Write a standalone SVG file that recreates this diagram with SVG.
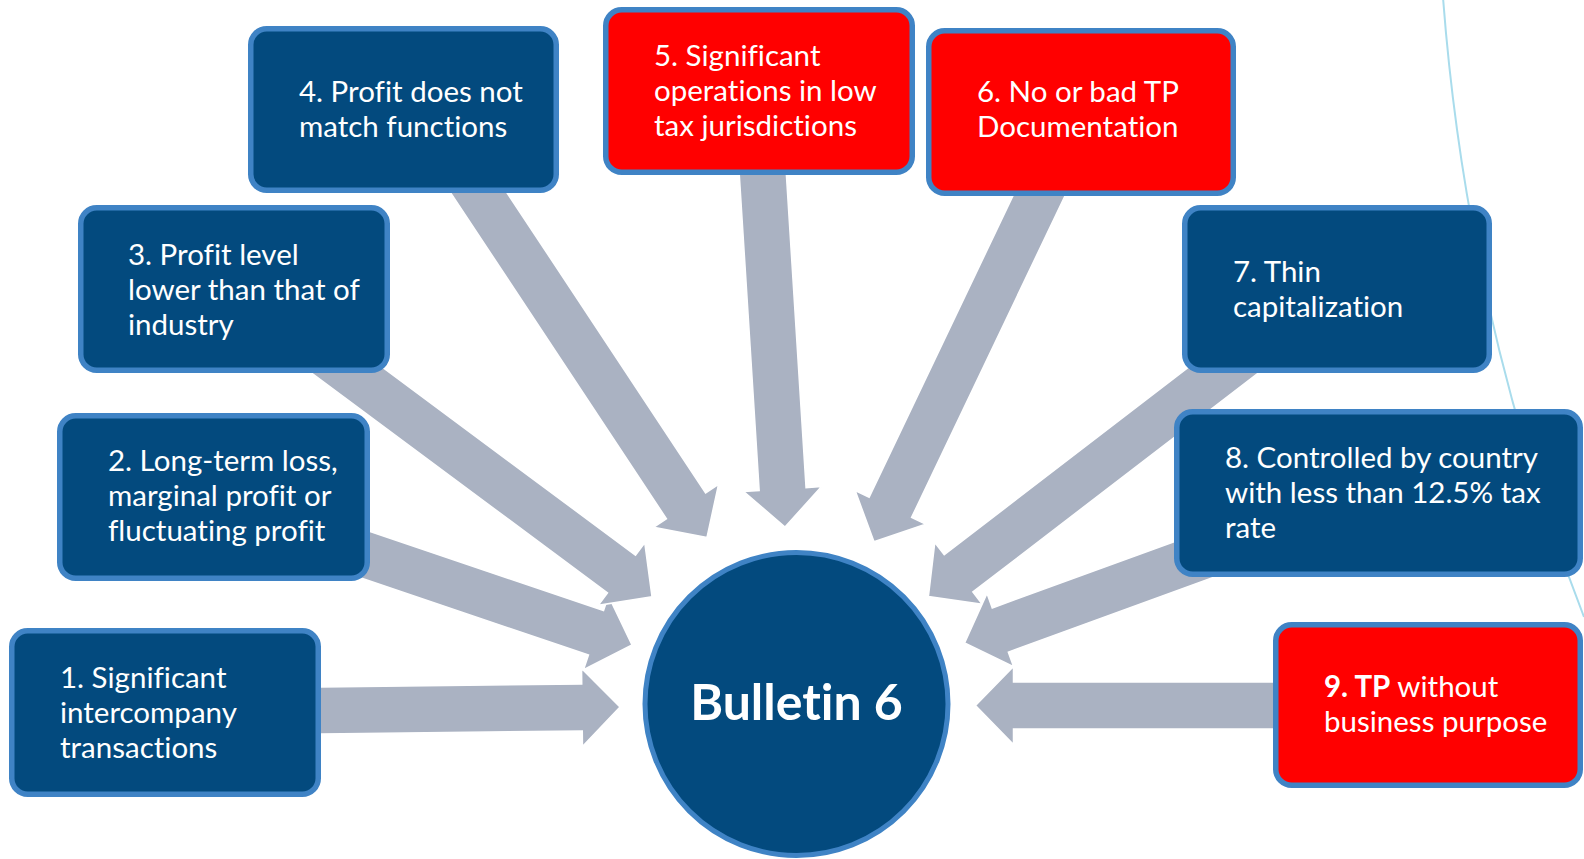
<svg xmlns="http://www.w3.org/2000/svg" width="1584" height="859" viewBox="0 0 1584 859">
<style>
.box{fill:#034A7E;stroke:#3F83C5;stroke-width:5.5}
.red{fill:#FF0000;stroke:#3F83C5;stroke-width:5.5}
.arr{fill:#AAB2C2;stroke:#FFFFFF;stroke-width:1.5;stroke-linejoin:miter}
.t{font-family:Lato,"Liberation Sans",sans-serif;font-size:29.5px;fill:#FFFFFF;font-variant-ligatures:none}
.b{font-weight:bold}
</style>
<rect width="1584" height="859" fill="#FFFFFF"/>
<path d="M1443.2,0 A2145,2145 0 0 0 1584,617" fill="none" stroke="#A9DCEC" stroke-width="2"/>
<g id="connectors">
<polygon class="arr" transform="translate(620,707) rotate(-0.66)" points="-320,-23.5 -38,-23.5 -38,-39 0,0 -38,39 -38,23.5 -320,23.5"/>
<polygon class="arr" transform="translate(632,645) rotate(18.7)" points="-300,-23.5 -38,-23.5 -38,-39 0,0 -38,39 -38,23.5 -300,23.5"/>
<polygon class="arr" transform="translate(652,596.7) rotate(36.6)" points="-430,-23.5 -38,-23.5 -38,-39 0,0 -38,39 -38,23.5 -430,23.5"/>
<polygon class="arr" transform="translate(707,537.5) rotate(56.5)" points="-440,-23.5 -38,-23.5 -38,-39 0,0 -38,39 -38,23.5 -440,23.5"/>
<polygon class="arr" transform="translate(785,527) rotate(86.4)" points="-368,-23.5 -38,-23.5 -38,-39 0,0 -38,39 -38,23.5 -368,23.5"/>
<polygon class="arr" transform="translate(874,541.7) rotate(115.5)" points="-405,-23.5 -38,-23.5 -38,-39 0,0 -38,39 -38,23.5 -405,23.5"/>
<polygon class="arr" transform="translate(928.4,596.5) rotate(142.5)" points="-410,-23.5 -38,-23.5 -38,-39 0,0 -38,39 -38,23.5 -410,23.5"/>
<polygon class="arr" transform="translate(964.6,643) rotate(160)" points="-320,-23.5 -38,-23.5 -38,-39 0,0 -38,39 -38,23.5 -320,23.5"/>
<polygon class="arr" transform="translate(975.5,705.5) rotate(180)" points="-325,-23.5 -38,-23.5 -38,-39 0,0 -38,39 -38,23.5 -325,23.5"/>
</g>
<g id="center">
<circle cx="796.5" cy="704" r="151.5" fill="#034A7E" stroke="#3F83C5" stroke-width="5"/>
<text class="t b" x="796.5" y="720" text-anchor="middle" style="font-size:50px">Bulletin 6</text>
</g>
<g id="n1">
<rect class="box" x="11.75" y="630.75" width="306.5" height="163.5" rx="16"/>
<text class="t" x="60" y="688">1. Significant</text>
<text class="t" x="60" y="723">intercompany</text>
<text class="t" x="60" y="758">transactions</text>
</g>
<g id="n2">
<rect class="box" x="59.75" y="415.75" width="307.5" height="162.5" rx="16"/>
<text class="t" x="108" y="471">2. Long-term loss,</text>
<text class="t" x="108" y="506">marginal profit or</text>
<text class="t" x="108" y="541">fluctuating profit</text>
</g>
<g id="n3">
<rect class="box" x="80.75" y="207.75" width="306.5" height="162.5" rx="16"/>
<text class="t" x="128" y="265">3. Profit level</text>
<text class="t" x="128" y="300">lower than that of</text>
<text class="t" x="128" y="335">industry</text>
</g>
<g id="n4">
<rect class="box" x="250.75" y="28.75" width="305.5" height="161.5" rx="16"/>
<text class="t" x="299" y="102">4. Profit does not</text>
<text class="t" x="299" y="137">match functions</text>
</g>
<g id="n5">
<rect class="red" x="605.75" y="9.75" width="306.5" height="162.5" rx="16"/>
<text class="t" x="654" y="66">5. Significant</text>
<text class="t" x="654" y="101">operations in low</text>
<text class="t" x="654" y="136">tax jurisdictions</text>
</g>
<g id="n6">
<rect class="red" x="928.75" y="30.75" width="304.5" height="162.5" rx="16"/>
<text class="t" x="977" y="102">6. No or bad TP</text>
<text class="t" x="977" y="137">Documentation</text>
</g>
<g id="n7">
<rect class="box" x="1184.75" y="207.75" width="304.5" height="162.5" rx="16"/>
<text class="t" x="1233" y="282">7. Thin</text>
<text class="t" x="1233" y="317">capitalization</text>
</g>
<g id="n8">
<rect class="box" x="1176.75" y="411.75" width="403.5" height="162.5" rx="16"/>
<text class="t" x="1225" y="468">8. Controlled by country</text>
<text class="t" x="1225" y="503">with less than 12.5% tax</text>
<text class="t" x="1225" y="538">rate</text>
</g>
<g id="n9">
<rect class="red" x="1275.75" y="624.75" width="304.5" height="160.5" rx="16"/>
<text class="t" x="1324" y="697"><tspan class="b">9. TP</tspan> without</text>
<text class="t" x="1324" y="732">business purpose</text>
</g>
</svg>
